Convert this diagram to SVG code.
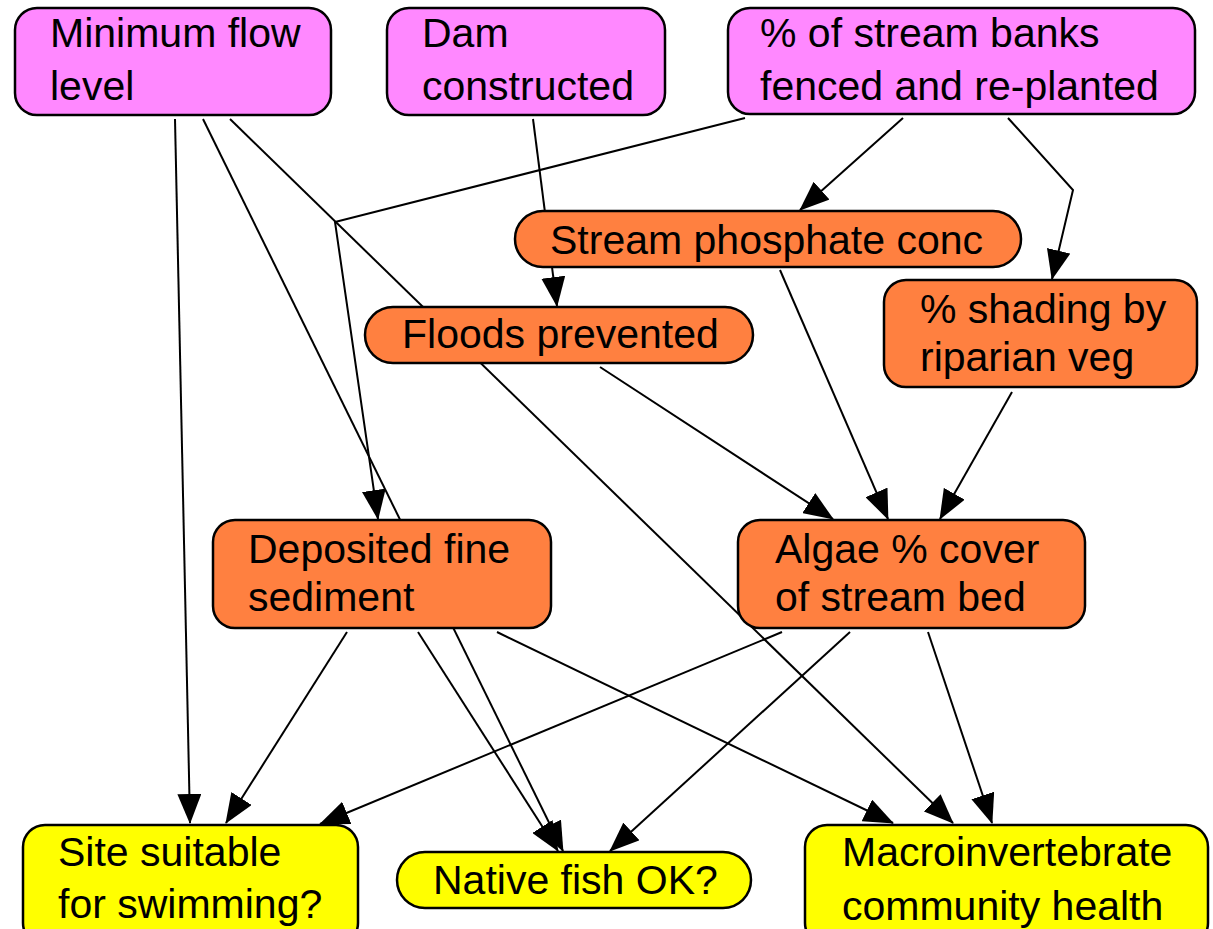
<svg xmlns="http://www.w3.org/2000/svg" width="1213" height="929" viewBox="0 0 1213 929">
<style>
.n rect{stroke:#000;stroke-width:2.5}
.dec rect{fill:#ff88ff}
.mid rect{fill:#ff8040}
.out rect{fill:#ffff00}
text{font-family:"Liberation Sans",Arial,sans-serif;font-size:41px;fill:#000}
#edges line,#edges polyline{stroke:#000;stroke-width:2;fill:none}
.a{marker-end:url(#arr)}
</style>
<defs>
<marker id="arr" markerUnits="userSpaceOnUse" markerWidth="30" markerHeight="24" refX="29" refY="12" orient="auto">
<path d="M0,0 L30,12 L0,24 z" fill="#000"/>
</marker>
</defs>
<rect width="1213" height="929" fill="#fff"/>
<g id="edges">
<line class="a" x1="175" y1="119" x2="190" y2="823"/>
<line class="a" x1="203" y1="119" x2="563" y2="851"/>
<line class="a" x1="230" y1="119" x2="953" y2="823"/>
<line class="a" x1="533" y1="119" x2="557" y2="306"/>
<polyline class="a" points="745,118 335,222 378,519"/>
<line class="a" x1="903" y1="118" x2="800" y2="210"/>
<polyline class="a" points="1008,118 1073,190 1052,279"/>
<line class="a" x1="780" y1="270" x2="888" y2="519"/>
<line class="a" x1="600" y1="367" x2="833" y2="519"/>
<line class="a" x1="1012" y1="392" x2="940" y2="519"/>
<line class="a" x1="347" y1="632" x2="226" y2="823"/>
<line class="a" x1="418" y1="632" x2="558" y2="851"/>
<line class="a" x1="497" y1="632" x2="893" y2="823"/>
<line class="a" x1="782" y1="632" x2="320" y2="824"/>
<line class="a" x1="850" y1="632" x2="610" y2="851"/>
<line class="a" x1="928" y1="632" x2="992" y2="823"/>
</g>
<g id="n-minflow" class="n dec">
<rect x="15" y="8" width="316" height="107" rx="22"/>
<text x="50" y="47">Minimum flow</text>
<text x="50" y="100">level</text>
</g>
<g id="n-dam" class="n dec">
<rect x="387" y="8" width="278" height="107" rx="22"/>
<text x="422" y="47">Dam</text>
<text x="422" y="100">constructed</text>
</g>
<g id="n-banks" class="n dec">
<rect x="728" y="8" width="467" height="106" rx="22"/>
<text x="760" y="47">% of stream banks</text>
<text x="760" y="100">fenced and re-planted</text>
</g>
<g id="n-phos" class="n mid">
<rect x="515" y="211" width="506" height="56" rx="28"/>
<text x="550" y="254">Stream phosphate conc</text>
</g>
<g id="n-floods" class="n mid">
<rect x="365" y="307" width="388" height="56" rx="28"/>
<text x="402" y="348">Floods prevented</text>
</g>
<g id="n-shading" class="n mid">
<rect x="884" y="280" width="313" height="107" rx="22"/>
<text x="920" y="323">% shading by</text>
<text x="920" y="371">riparian veg</text>
</g>
<g id="n-sediment" class="n mid">
<rect x="213" y="520" width="338" height="108" rx="22"/>
<text x="248" y="563">Deposited fine</text>
<text x="248" y="611">sediment</text>
</g>
<g id="n-algae" class="n mid">
<rect x="738" y="520" width="347" height="108" rx="22"/>
<text x="775" y="563">Algae % cover</text>
<text x="775" y="611">of stream bed</text>
</g>
<g id="n-swim" class="n out">
<rect x="23" y="825" width="335" height="120" rx="22"/>
<text x="58" y="866">Site suitable</text>
<text x="58" y="918">for swimming?</text>
</g>
<g id="n-fish" class="n out">
<rect x="397" y="852" width="354" height="56" rx="28"/>
<text x="433" y="894">Native fish OK?</text>
</g>
<g id="n-macro" class="n out">
<rect x="805" y="825" width="403" height="120" rx="22"/>
<text x="842" y="866">Macroinvertebrate</text>
<text x="842" y="920">community health</text>
</g>
</svg>
